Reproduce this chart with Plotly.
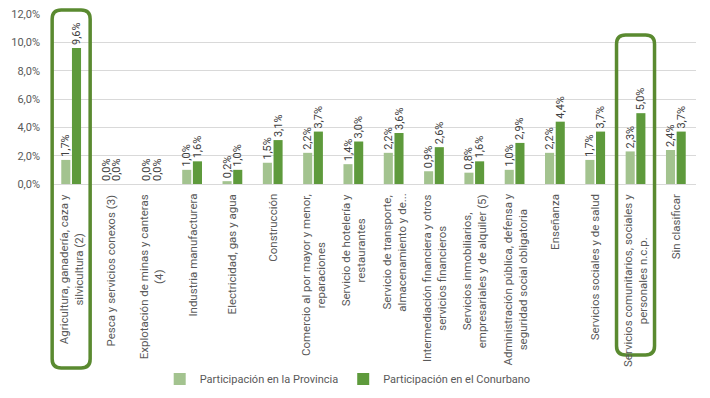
import plotly.graph_objects as go

categories = [
    "Agricultura, ganadería, caza y<br>silvicultura (2)",
    "Pesca y servicios conexos (3)",
    "Explotación de minas y canteras<br>(4)",
    "Industria manufacturera",
    "Electricidad, gas y agua",
    "Construcción",
    "Comercio al por mayor y menor,<br>reparaciones",
    "Servicio de hotelería y<br>restaurantes",
    "Servicio de transporte,<br>almacenamiento y de...",
    "Intermediación financiera y otros<br>servicios financieros",
    "Servicios inmobiliarios,<br>empresariales y de alquiler (5)",
    "Administración pública, defensa y<br>seguridad social obligatoria",
    "Enseñanza",
    "Servicios sociales y de salud",
    "Servicios comunitarios, sociales y<br>personales n.c.p.",
    "Sin clasificar",
]
provincia = [1.7, 0.0, 0.0, 1.0, 0.2, 1.5, 2.2, 1.4, 2.2, 0.9, 0.8, 1.0, 2.2, 1.7, 2.3, 2.4]
conurbano = [9.6, 0.0, 0.0, 1.6, 1.0, 3.1, 3.7, 3.0, 3.6, 2.6, 1.6, 2.9, 4.4, 3.7, 5.0, 3.7]
series_names = ["Participación en la Provincia", "Participación en el Conurbano"]
y_ticks = [0, 2, 4, 6, 8, 10, 12]
highlighted = [0, 14]

LIGHT = "#A3C38F"
DARK = "#5E9A3C"
FRAME = "#5A8A30"
FONT = "Roboto, Liberation Sans, sans-serif"

def fmt(v):
    return f"{v:.1f}%".replace(".", ",")

xidx = list(range(len(categories)))

fig = go.Figure()
for name, vals, col in [(series_names[0], provincia, LIGHT), (series_names[1], conurbano, DARK)]:
    fig.add_trace(go.Bar(
        x=xidx, y=vals, name=name, marker=dict(color=col, line=dict(width=0)),
        text=[fmt(v) for v in vals], textposition="outside", textangle=-90,
        textfont=dict(size=11, color="#404040", family=FONT),
        cliponaxis=False, constraintext="none",
    ))

W, H = 710, 398
L, R, T, B = 51, 14, 14, 214
pw = W - L - R
ph = H - T - B
n = len(categories)

annotations = []
for i, lab in enumerate(categories):
    annotations.append(dict(
        x=i, y=-8 / ph, xref="x", yref="paper", text=lab, showarrow=False,
        textangle=-90, xanchor="center", yanchor="top", align="center",
        font=dict(size=11.5, color="#595959", family=FONT),
    ))

shapes = []
for i, (top_px, bot_px) in zip(highlighted, [(10, 368), (35, 355)]):
    cx = (i + 0.5) / n
    hw = 19 / pw
    x0, x1 = cx - hw, cx + hw
    y1 = (ph + T - top_px) / ph
    y0 = (ph + T - bot_px) / ph
    rx, ry = 9 / pw, 9 / ph
    path = (f"M {x0+rx},{y1} L {x1-rx},{y1} Q {x1},{y1} {x1},{y1-ry} "
            f"L {x1},{y0+ry} Q {x1},{y0} {x1-rx},{y0} L {x0+rx},{y0} "
            f"Q {x0},{y0} {x0},{y0+ry} L {x0},{y1-ry} Q {x0},{y1} {x0+rx},{y1} Z")
    shapes.append(dict(type="path", xref="paper", yref="paper", path=path,
                       line=dict(color=FRAME, width=3.5), fillcolor="rgba(0,0,0,0)"))

fig.update_layout(
    width=W, height=H, margin=dict(l=L, r=R, t=T, b=B, autoexpand=False),
    paper_bgcolor="white", plot_bgcolor="white",
    barmode="group", bargap=0.47, bargroupgap=0.15,
    separators=",.",
    showlegend=True,
    legend=dict(orientation="h", x=0.46, xanchor="center", y=(T + ph - 379) / ph, yanchor="middle",
                font=dict(size=11, color="#595959", family=FONT), traceorder="normal",
                itemwidth=30),
    xaxis=dict(range=[-0.5, n - 0.5], showticklabels=False, showgrid=False,
               showline=True, linecolor="#D9D9D9", linewidth=1, zeroline=False, ticks=""),
    yaxis=dict(range=[0, 12], tickvals=y_ticks, ticktext=[fmt(v) for v in y_ticks],
               showgrid=True, gridcolor="#D9D9D9", gridwidth=1, zeroline=False,
               tickfont=dict(size=11, color="#595959", family=FONT), ticks="",
               ticklabelstandoff=10, showline=False),
    annotations=annotations, shapes=shapes,
)

fig.write_html("out.html", config={"displayModeBar": False},
               post_script="document.body.style.margin='0';")
